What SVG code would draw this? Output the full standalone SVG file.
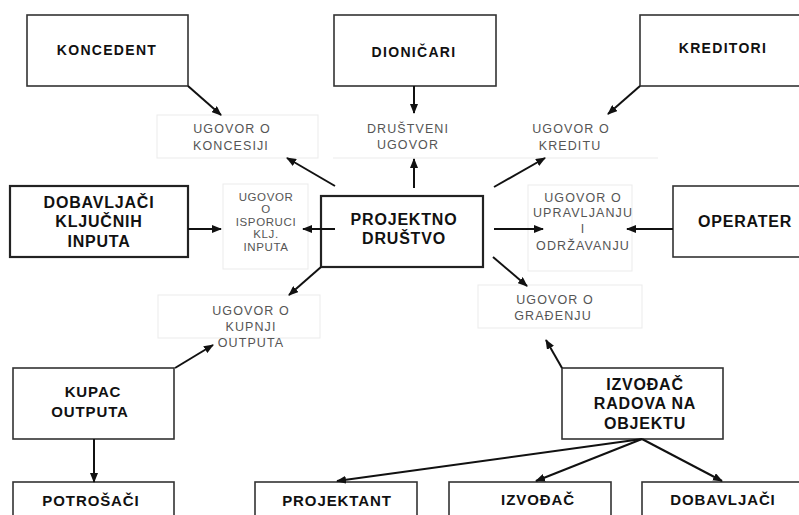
<svg xmlns="http://www.w3.org/2000/svg" width="799" height="515" viewBox="0 0 799 515">
<defs>
<style>
.box{fill:#fff;stroke:#333;stroke-width:1.6}
.box2{fill:#fff;stroke:#222;stroke-width:2.2}
.faint{fill:none;stroke:#ebebeb;stroke-width:1}
.t14{font-family:"Liberation Sans",Arial,sans-serif;font-weight:bold;font-size:14px;letter-spacing:1.3px;fill:#111;text-anchor:middle}
.t16{font-family:"Liberation Sans",Arial,sans-serif;font-weight:bold;font-size:16px;letter-spacing:0.8px;fill:#111;text-anchor:middle}
.t15{font-family:"Liberation Sans",Arial,sans-serif;font-weight:bold;font-size:15px;letter-spacing:0.9px;fill:#111;text-anchor:middle}
.s{font-family:"Liberation Sans",Arial,sans-serif;font-size:12.5px;letter-spacing:1.1px;fill:#555;text-anchor:middle}
.s2{font-family:"Liberation Sans",Arial,sans-serif;font-size:11.5px;letter-spacing:0.6px;fill:#555;text-anchor:middle}
.c line{stroke:#111;stroke-width:2;marker-end:url(#ah)}
</style>
<marker id="ah" markerUnits="userSpaceOnUse" markerWidth="10" markerHeight="8" refX="9" refY="4" orient="auto">
<path d="M0,0 L10,4 L0,8 Z" fill="#111"/>
</marker>
</defs>
<rect width="799" height="515" fill="#fff"/>

<g id="labels-faint">
<rect class="faint" x="157" y="115" width="161" height="43"/>
<line class="faint" x1="333" y1="158" x2="658" y2="158"/>
<rect class="faint" x="223" y="184" width="85" height="85"/>
<rect class="faint" x="528" y="185" width="104" height="86"/>
<rect class="faint" x="158" y="295" width="162" height="43"/>
<rect class="faint" x="478" y="285" width="164" height="43"/>
</g>

<g id="ugovor-koncesiji">
<text class="s" x="232" y="133">UGOVOR O</text>
<text class="s" x="231" y="150">KONCESIJI</text>
</g>
<g id="drustveni-ugovor">
<text class="s" x="408" y="133">DRUŠTVENI</text>
<text class="s" x="408" y="149">UGOVOR</text>
</g>
<g id="ugovor-kreditu">
<text class="s" x="571" y="133">UGOVOR O</text>
<text class="s" x="570" y="150">KREDITU</text>
</g>
<g id="ugovor-isporuci">
<text class="s2" x="266" y="201">UGOVOR</text>
<text class="s2" x="266" y="213">O</text>
<text class="s2" x="266" y="226">ISPORUCI</text>
<text class="s2" x="266" y="238">KLJ.</text>
<text class="s2" x="266" y="251">INPUTA</text>
</g>
<g id="ugovor-upravljanju">
<text class="s" x="583" y="202">UGOVOR O</text>
<text class="s" x="583" y="217">UPRAVLJANJU</text>
<text class="s" x="583" y="233">I</text>
<text class="s" x="583" y="250">ODRŽAVANJU</text>
</g>
<g id="ugovor-kupnji">
<text class="s" x="251" y="315">UGOVOR O</text>
<text class="s" x="251" y="331">KUPNJI</text>
<text class="s" x="251" y="347">OUTPUTA</text>
</g>
<g id="ugovor-gradenju">
<text class="s" x="555" y="304">UGOVOR O</text>
<text class="s" x="553" y="320">GRAĐENJU</text>
</g>

<g id="koncedent">
<rect class="box" x="27" y="15" width="161" height="71"/>
<text class="t14" x="107" y="55">KONCEDENT</text>
</g>
<g id="dionicari">
<rect class="box" x="334" y="15" width="162" height="71"/>
<text class="t14" x="414" y="57">DIONIČARI</text>
</g>
<g id="kreditori">
<rect class="box" x="640" y="15" width="175" height="71"/>
<text class="t14" x="723" y="53">KREDITORI</text>
</g>
<g id="dobavljaci-inputa">
<rect class="box2" x="10" y="186" width="178" height="71"/>
<text class="t16" x="99" y="208">DOBAVLJAČI</text>
<text class="t16" x="99" y="227">KLJUČNIH</text>
<text class="t16" x="99" y="247">INPUTA</text>
</g>
<g id="projektno-drustvo">
<rect class="box2" x="321" y="196" width="162" height="71"/>
<text class="t16" x="404" y="225">PROJEKTNO</text>
<text class="t16" x="404" y="244">DRUŠTVO</text>
</g>
<g id="operater">
<rect class="box" x="673" y="186" width="150" height="71"/>
<text class="t16" x="745" y="227">OPERATER</text>
</g>
<g id="kupac-outputa">
<rect class="box" x="13" y="368" width="161" height="71"/>
<text class="t15" x="93" y="397">KUPAC</text>
<text class="t15" x="90" y="417">OUTPUTA</text>
</g>
<g id="izvodac-radova">
<rect class="box" x="562" y="368" width="161" height="71"/>
<text class="t16" x="645" y="390">IZVOĐAČ</text>
<text class="t16" x="645" y="409">RADOVA NA</text>
<text class="t16" x="645" y="429">OBJEKTU</text>
</g>
<g id="potrosaci">
<rect class="box" x="13" y="482" width="161" height="50"/>
<text class="t15" x="91" y="506">POTROŠAČI</text>
</g>
<g id="projektant">
<rect class="box" x="255" y="482" width="162" height="50"/>
<text class="t15" x="337" y="506">PROJEKTANT</text>
</g>
<g id="izvodac">
<rect class="box" x="449" y="482" width="162" height="50"/>
<text class="t15" x="538" y="505">IZVOĐAČ</text>
</g>
<g id="dobavljaci">
<rect class="box" x="642" y="482" width="175" height="50"/>
<text class="t15" x="723" y="505">DOBAVLJAČI</text>
</g>

<g id="connectors" class="c">
<line x1="188" y1="86" x2="221" y2="115"/>
<line x1="414" y1="86" x2="414" y2="113"/>
<line x1="640" y1="86" x2="608" y2="114"/>
<line x1="335" y1="186" x2="287" y2="158"/>
<line x1="414" y1="188" x2="414" y2="159"/>
<line x1="494" y1="187" x2="545" y2="158"/>
<line x1="188" y1="229" x2="221" y2="229"/>
<line x1="335" y1="229" x2="303" y2="229"/>
<line x1="494" y1="229" x2="543" y2="229"/>
<line x1="673" y1="229" x2="627" y2="229"/>
<line x1="321" y1="267" x2="289" y2="295"/>
<line x1="493" y1="257" x2="527" y2="286"/>
<line x1="175" y1="368" x2="213" y2="345"/>
<line x1="94" y1="439" x2="94" y2="482"/>
<line x1="562" y1="368" x2="546" y2="340"/>
<line x1="642" y1="439" x2="337" y2="481"/>
<line x1="642" y1="439" x2="536" y2="481"/>
<line x1="642" y1="439" x2="722" y2="481"/>
</g>
</svg>
